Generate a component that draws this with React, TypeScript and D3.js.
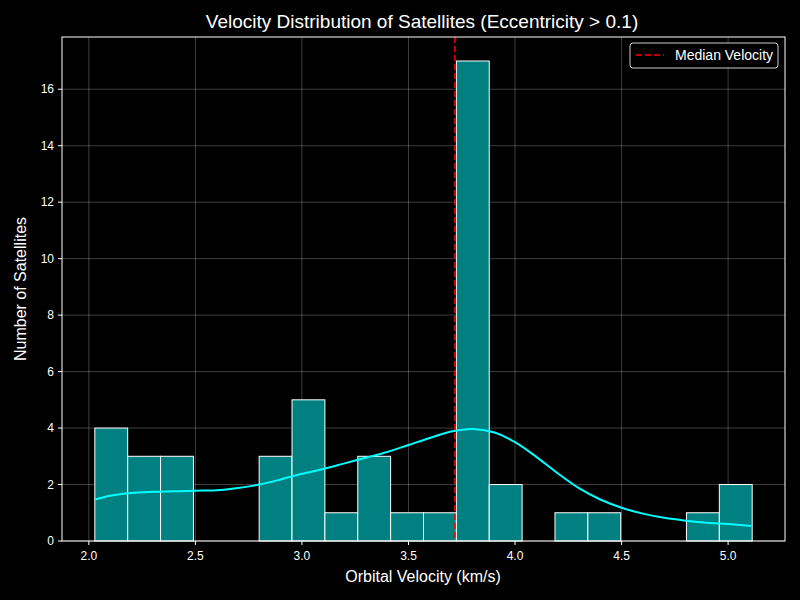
import React from "react";
import * as d3 from "d3";

const binStart = 2.028;
const binEnd = 5.113;
const counts = [4, 3, 3, 0, 0, 3, 5, 1, 3, 1, 1, 17, 2, 0, 1, 1, 0, 0, 1, 2];
const median = 3.718;
const kdeX = [2.03, 2.1, 2.2, 2.3, 2.4, 2.5, 2.6, 2.7, 2.8, 2.9, 3.0, 3.1, 3.2, 3.3, 3.4, 3.5, 3.6, 3.7, 3.8, 3.9, 4.0, 4.1, 4.2, 4.3, 4.4, 4.5, 4.6, 4.7, 4.8, 4.9, 5.0, 5.11];
const kdeY = [1.47, 1.6, 1.7, 1.74, 1.76, 1.78, 1.8, 1.88, 2.0, 2.18, 2.38, 2.55, 2.75, 2.95, 3.15, 3.4, 3.65, 3.88, 3.97, 3.85, 3.5, 2.98, 2.4, 1.87, 1.47, 1.18, 0.97, 0.82, 0.72, 0.65, 0.6, 0.53];
const xTicks = [2.0, 2.5, 3.0, 3.5, 4.0, 4.5, 5.0];
const yTicks = [0, 2, 4, 6, 8, 10, 12, 14, 16];

export default function App() {
  const L = 62, R = 785, T = 37, B = 541;
  const x = d3.scaleLinear().domain([1.874, 5.267]).range([L, R]);
  const y = d3.scaleLinear().domain([0, 17.85]).range([B, T]);
  const bw = (binEnd - binStart) / counts.length;
  const line = d3.line<number>().x((_, i) => x(kdeX[i])).y((d) => y(d)).curve(d3.curveCatmullRom);
  const font = "Liberation Sans, Arial, sans-serif";
  return (
    <svg width={800} height={600} style={{ position: "absolute", left: 0, top: 0, background: "#000" }} fontFamily={font}>
      <rect width={800} height={600} fill="#000" />
      {xTicks.map((t) => (
        <g key={"x" + t}>
          <line x1={x(t)} x2={x(t)} y1={T} y2={B} stroke="#fff" strokeOpacity={0.3} strokeWidth={0.8} />
          <line x1={x(t)} x2={x(t)} y1={B} y2={B + 4} stroke="#fff" />
          <text x={x(t)} y={B + 19} fill="#fff" fontSize={12} textAnchor="middle">{t.toFixed(1)}</text>
        </g>
      ))}
      {yTicks.map((t) => (
        <g key={"y" + t}>
          <line x1={L} x2={R} y1={y(t)} y2={y(t)} stroke="#fff" strokeOpacity={0.3} strokeWidth={0.8} />
          <line x1={L - 4} x2={L} y1={y(t)} y2={y(t)} stroke="#fff" />
          <text x={L - 8} y={y(t) + 4} fill="#fff" fontSize={12} textAnchor="end">{t}</text>
        </g>
      ))}
      {counts.map((c, i) =>
        c > 0 ? (
          <rect key={i} x={x(binStart + i * bw)} y={y(c)} width={x(binStart + (i + 1) * bw) - x(binStart + i * bw)} height={B - y(c)} fill="#008080" stroke="#fff" strokeWidth={1} />
        ) : null
      )}
      <path d={line(kdeY) || ""} fill="none" stroke="#00ffff" strokeWidth={2} />
      <line x1={x(median)} x2={x(median)} y1={T} y2={B} stroke="#ff0000" strokeWidth={1.5} strokeDasharray="6,3" />
      <rect x={L} y={T} width={R - L} height={B - T} fill="none" stroke="#fff" strokeWidth={1} />
      <rect x={630} y={43} width={148} height={25} rx={3} fill="#000" stroke="#fff" strokeOpacity={0.8} />
      <line x1={636} x2={664} y1={55} y2={55} stroke="#ff0000" strokeWidth={1.5} strokeDasharray="6,3" />
      <text x={675} y={60} fill="#fff" fontSize={14}>Median Velocity</text>
      <text x={422} y={28} fill="#fff" fontSize={19} textAnchor="middle">Velocity Distribution of Satellites (Eccentricity &gt; 0.1)</text>
      <text x={423} y={582} fill="#fff" fontSize={16} textAnchor="middle">Orbital Velocity (km/s)</text>
      <text transform={`translate(26,289) rotate(-90)`} fill="#fff" fontSize={16} textAnchor="middle">Number of Satellites</text>
    </svg>
  );
}
